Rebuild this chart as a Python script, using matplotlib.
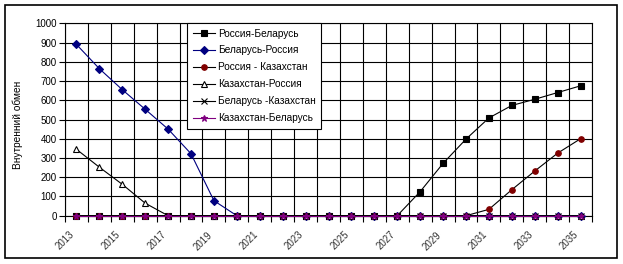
import matplotlib
matplotlib.use("Agg")
import matplotlib.pyplot as plt
from matplotlib.patches import Rectangle
import numpy as np

years = list(range(2013, 2036))
rus_bel = [0]*15 + [125, 272, 398, 508, 573, 605, 640, 675]
bel_rus = [890, 764, 655, 553, 450, 322, 78] + [0]*16
rus_kaz = [0]*18 + [33, 135, 232, 325, 400]
kaz_rus = [345, 252, 163, 65] + [0]*19
bel_kaz = [0]*23
kaz_bel = [0]*23

series_names = ["Россия-Беларусь", "Беларусь-Россия", "Россия - Казахстан",
                "Казахстан-Россия", "Беларусь -Казахстан", "Казахстан-Беларусь"]
ylabel = "Внутренний обмен"

plt.rcParams['font.family'] = ['Liberation Sans', 'DejaVu Sans']

W, H = 623, 264
fig = plt.figure(figsize=(W/100, H/100), dpi=100)
ax = fig.add_axes([65/W, 1-215.7/H, (592-65)/W, (215.7-23.3)/H])

x = np.arange(len(years))
styles = [
    dict(color='black', marker='s', mfc='black', mec='black', ms=4.2),
    dict(color='#000080', marker='D', mfc='#000080', mec='#000080', ms=3.6),
    dict(color='black', marker='o', mfc='#800000', mec='#800000', ms=4.0),
    dict(color='black', marker='^', mfc='white', mec='black', ms=4.6),
    dict(color='black', marker='x', mfc='black', mec='black', ms=4.0),
    dict(color='#800080', marker='*', mfc='#800080', mec='#800080', ms=4.6),
]
data = [rus_bel, bel_rus, rus_kaz, kaz_rus, bel_kaz, kaz_bel]
for name, d, st in zip(series_names, data, styles):
    ax.plot(x, d, lw=0.8, label=name, mew=0.8, clip_on=False, zorder=3, **st)

ax.set_xlim(-0.5, len(years)-0.5)
ax.set_ylim(0, 1000)
ax.set_yticks(np.arange(0, 1001, 100))
ax.set_xticks(x[::2])
ax.set_xticklabels([str(y) for y in years[::2]], rotation=45, ha='right', va='top',
                   fontsize=7, color='#333333')
ax.set_xticks(np.arange(-0.5, len(years), 1), minor=True)
ax.tick_params(axis='x', which='major', length=0, pad=10)
ax.tick_params(axis='x', which='minor', length=4, width=0.8, color='black', direction='out')
ax.tick_params(axis='y', which='major', length=4, width=0.8, direction='out', labelsize=7, pad=2)
ax.grid(axis='x', which='minor', color='black', lw=0.8)
ax.grid(axis='y', which='major', color='black', lw=0.8)
ax.set_axisbelow(True)
for s in ax.spines.values():
    s.set_color('black'); s.set_linewidth(0.8)
ax.set_ylabel(ylabel, fontsize=7.3)
ax.yaxis.set_label_coords(-42/527, 0.47)

leg = ax.legend(loc='upper left', bbox_to_anchor=(187/W, 1-23/H), bbox_transform=fig.transFigure,
                fontsize=7.3, frameon=True, fancybox=False, framealpha=1, edgecolor='black',
                labelspacing=0.68, handlelength=2.2, handletextpad=0.3, borderpad=0.55,
                borderaxespad=0)
leg.get_frame().set_linewidth(0.8)
leg.set_zorder(5)

fig.patches.append(Rectangle((5/W, 1-258/H), 612/W, 253/H, transform=fig.transFigure,
                             fill=False, edgecolor='black', lw=1.2))
fig.savefig('out.png', dpi=100)
